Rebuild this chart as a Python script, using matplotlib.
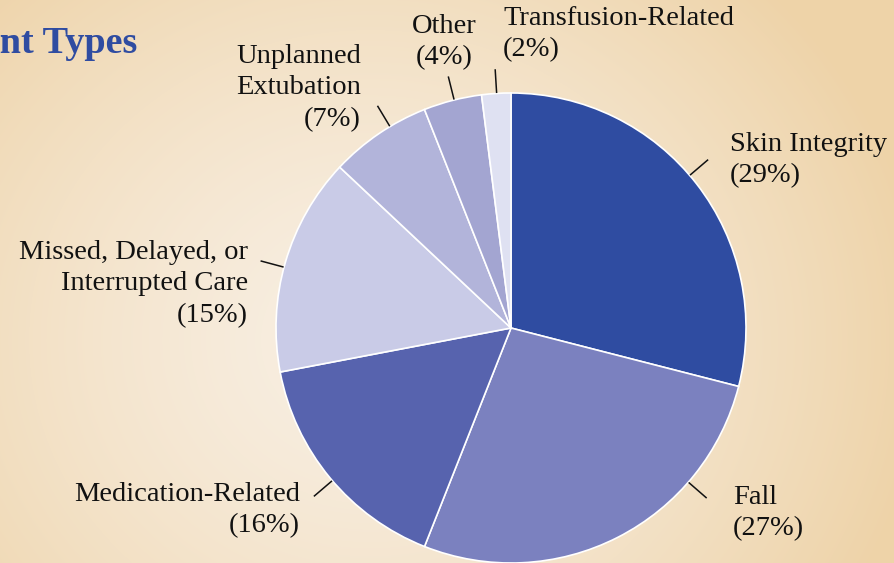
import numpy as np
import matplotlib.pyplot as plt
from matplotlib.colors import LinearSegmentedColormap

categories = ["Skin Integrity", "Fall", "Medication-Related",
              "Missed, Delayed, or\nInterrupted Care", "Unplanned\nExtubation",
              "Other", "Transfusion-Related"]
shares = [29, 27, 16, 15, 7, 4, 2]
colors = ["#2f4ca1", "#7b81bf", "#5763ae", "#c9cbe7", "#b2b4da", "#a3a5d1", "#dfe1f2"]

W, H = 894, 563
CX, CY, R = 511, 328, 235

fig = plt.figure(figsize=(W / 100, H / 100), dpi=100)
ax = fig.add_axes([0, 0, 1, 1])

# radial background gradient
yy, xx = np.mgrid[0:H, 0:W]
d = np.hypot(xx - 370, (yy - 340) * 1.1) / 560
d = np.clip(d, 0, 1) ** 1.4
bg = LinearSegmentedColormap.from_list("bg", ["#f8efe3", "#eed3a8"])
ax.imshow(d, cmap=bg, extent=(0, W, H, 0), vmin=0, vmax=1, zorder=0)

# with y inverted, counterclock=True sweeps clockwise on screen
wedges, _ = ax.pie(shares, colors=colors, startangle=-90, counterclock=True,
                   center=(CX, CY), radius=R, frame=True,
                   wedgeprops=dict(edgecolor="white", linewidth=1.2))
for w in wedges:
    w.set_zorder(2)
ax.set_xlim(0, W)
ax.set_ylim(H, 0)
ax.set_aspect("equal")
ax.axis("off")

# label layout: leader angle (deg, screen ccw), text anchor, alignment
layout = [
    (40.5, (730, 160), "left"),
    (-41, (733, 513), "left"),
    (-139.5, (300, 510), "right"),
    (165, (248, 284), "right"),
    (121, (361, 88), "right"),
    (104, (444, 42), "center"),
    (93.5, (503, 34), "left"),
]
for cat, val, (ang, (tx, ty), ha) in zip(categories, shares, layout):
    a = np.radians(ang)
    x1, y1 = CX + R * 1.005 * np.cos(a), CY - R * 1.005 * np.sin(a)
    x2, y2 = CX + R * 1.1 * np.cos(a), CY - R * 1.1 * np.sin(a)
    ax.plot([x1, x2], [y1, y2], color="#111111", lw=1.1, zorder=3)
    ax.text(tx, ty, f"{cat}\n({val}%)", ha=ha, va="center", multialignment=ha,
            fontsize=20.5, family="Liberation Serif", color="#111111",
            linespacing=1.35, zorder=4)

ax.text(137, 53, "Incident Types", ha="right", va="baseline", fontsize=27.5,
        fontweight="bold", family="Liberation Serif", color="#2f4ca1", zorder=4)

fig.savefig("out.png", dpi=100)
